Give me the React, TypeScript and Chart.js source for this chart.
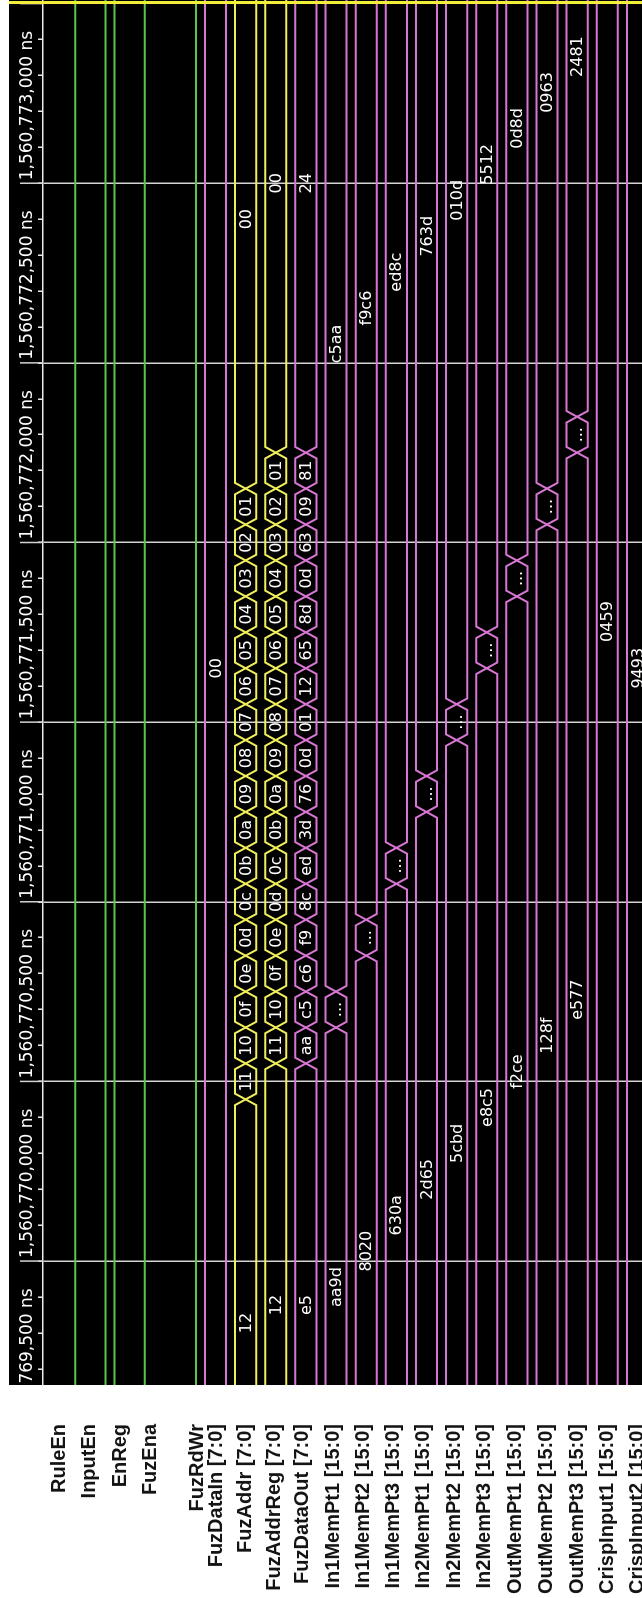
import React, { useEffect, useRef } from 'react';
import { Chart, registerables } from 'chart.js';

Chart.register(...registerables);

// ---- signals, top to bottom in the wave window ----
const SIGNAL_NAMES = [
  'RuleEn',
  'InputEn',
  'EnReg',
  'FuzEna',
  'FuzRdWr',
  'FuzDataIn [7:0]',
  'FuzAddr [7:0]',
  'FuzAddrReg [7:0]',
  'FuzDataOut [7:0]',
  'In1MemPt1 [15:0]',
  'In1MemPt2 [15:0]',
  'In1MemPt3 [15:0]',
  'In2MemPt1 [15:0]',
  'In2MemPt2 [15:0]',
  'In2MemPt3 [15:0]',
  'OutMemPt1 [15:0]',
  'OutMemPt2 [15:0]',
  'OutMemPt3 [15:0]',
  'CrispInput1 [15:0]',
  'CrispInput2 [15:0]',
];

// 1-bit signals (rows 0..4): level held over the whole window
const BIT_LEVELS = [0, 0, 1, 1, 0];

// ---- time (ns) ----
const TRACE_START = 1560769205; // span held by the wave window
const TRACE_END = 1560774355;
const VIEW_START = 1560769655; // part of it that is on screen
const VIEW_END = 1560773510;
const CURSOR_TIME = 1560773503;

const MAJOR_TIMES = [
  1560769500, 1560770000, 1560770500, 1560771000, 1560771500,
  1560772000, 1560772500, 1560773000, 1560773500,
];
const MAJOR_LABELS = [
  '1,560,769,500 ns', '1,560,770,000 ns', '1,560,770,500 ns', '1,560,771,000 ns',
  '1,560,771,500 ns', '1,560,772,000 ns', '1,560,772,500 ns', '1,560,773,000 ns',
  '1,560,773,500 ns',
];
const MINOR_STEP_NS = 100;

// ---- bus values: boundary times and the value held between them ----
const FUZ_DATA_IN_TIMES = [TRACE_START, 1560774095];
const FUZ_DATA_IN_VALUES = ['00'];

const FUZ_ADDR_TIMES = [
  TRACE_START,
  1560770450, 1560770550, 1560770650, 1560770750, 1560770850, 1560770950,
  1560771050, 1560771150, 1560771250, 1560771350, 1560771450, 1560771550,
  1560771650, 1560771750, 1560771850, 1560771950, 1560772050, 1560772150,
  1560773650,
];
const FUZ_ADDR_VALUES = [
  '12', '11', '10', '0f', '0e', '0d', '0c', '0b', '0a', '09',
  '08', '07', '06', '05', '04', '03', '02', '01', '00',
];

const FUZ_ADDR_REG_TIMES = [
  TRACE_START,
  1560770550, 1560770650, 1560770750, 1560770850, 1560770950, 1560771050,
  1560771150, 1560771250, 1560771350, 1560771450, 1560771550, 1560771650,
  1560771750, 1560771850, 1560771950, 1560772050, 1560772150, 1560772250,
  1560773750,
];
const FUZ_ADDR_REG_VALUES = [
  '12', '11', '10', '0f', '0e', '0d', '0c', '0b', '0a', '09',
  '08', '07', '06', '05', '04', '03', '02', '01', '00',
];

const FUZ_DATA_OUT_TIMES = [
  TRACE_START,
  1560770550, 1560770650, 1560770750, 1560770850, 1560770950, 1560771050,
  1560771150, 1560771250, 1560771350, 1560771450, 1560771550, 1560771650,
  1560771750, 1560771850, 1560771950, 1560772050, 1560772150, 1560772250,
  1560773750,
];
const FUZ_DATA_OUT_VALUES = [
  'e5', 'aa', 'c5', 'c6', 'f9', '8c', 'ed', '3d', '76', '0d',
  '01', '12', '65', '8d', '0d', '63', '09', '81', '24',
];

// null: value held too briefly to be printed
const IN1_MEM_PT1_TIMES = [TRACE_START, 1560770650, 1560770750, TRACE_END];
const IN1_MEM_PT1_VALUES = ['aa9d', null, 'c5aa'];
const IN1_MEM_PT2_TIMES = [TRACE_START, 1560770850, 1560770950, TRACE_END];
const IN1_MEM_PT2_VALUES = ['8020', null, 'f9c6'];
const IN1_MEM_PT3_TIMES = [TRACE_START, 1560771050, 1560771150, TRACE_END];
const IN1_MEM_PT3_VALUES = ['630a', null, 'ed8c'];
const IN2_MEM_PT1_TIMES = [TRACE_START, 1560771250, 1560771350, TRACE_END];
const IN2_MEM_PT1_VALUES = ['2d65', null, '763d'];
const IN2_MEM_PT2_TIMES = [TRACE_START, 1560771450, 1560771550, TRACE_END];
const IN2_MEM_PT2_VALUES = ['5cbd', null, '010d'];
const IN2_MEM_PT3_TIMES = [TRACE_START, 1560771650, 1560771750, TRACE_END];
const IN2_MEM_PT3_VALUES = ['e8c5', null, '5512'];
const OUT_MEM_PT1_TIMES = [TRACE_START, 1560771850, 1560771950, TRACE_END];
const OUT_MEM_PT1_VALUES = ['f2ce', null, '0d8d'];
const OUT_MEM_PT2_TIMES = [TRACE_START, 1560772050, 1560772150, TRACE_END];
const OUT_MEM_PT2_VALUES = ['128f', null, '0963'];
const OUT_MEM_PT3_TIMES = [TRACE_START, 1560772250, 1560772350, TRACE_END];
const OUT_MEM_PT3_VALUES = ['e577', null, '2481'];
const CRISP_INPUT1_TIMES = [TRACE_START, TRACE_END];
const CRISP_INPUT1_VALUES = ['0459'];
const CRISP_INPUT2_TIMES = [TRACE_START, 1560774095];
const CRISP_INPUT2_VALUES = ['9493'];

// ---- look ----
const GREEN = '#5ac64a';
const PINK = '#d876d3';
const YELLOW = '#f1ee5c';
const GRID = '#d4d4d4';
const AXIS = '#ececec';
const CURSOR = '#f3ef3a';

const PAGE_W = 642;
const PAGE_H = 1598;
const CANVAS_W = PAGE_H; // drawn lying down, then turned upright
const CANVAS_H = PAGE_W;
const NAME_PANEL_W = 213;
const HEADER_TOP = 9;
const HEADER_H = 34;
const ROW_MIN = -0.723;
const ROW_MAX = 19.151;
const HALF_LANE = 0.35; // half bus height, in rows
const EDGE_NS = 16; // half width of a bus crossing
const NAME_RIGHT = 174;
const NAME_NUDGE = [-5, -5, -5, -5, 12, 1, 0, -1, -3, -3, -3, -3, -3, -2, -2, -1, -1, 0, 0, 0];

const VALUE_FONT = '16px "DejaVu Sans", Verdana, sans-serif';
const AXIS_FONT = '17px "DejaVu Sans", Verdana, sans-serif';
const NAME_FONT = 'bold 20px "Liberation Sans", Arial, sans-serif';

type Bus = { row: number; times: number[]; values: (string | null)[]; color: string };

const BUS_ROWS: Bus[] = [
  { row: 5, times: FUZ_DATA_IN_TIMES, values: FUZ_DATA_IN_VALUES, color: PINK },
  { row: 6, times: FUZ_ADDR_TIMES, values: FUZ_ADDR_VALUES, color: YELLOW },
  { row: 7, times: FUZ_ADDR_REG_TIMES, values: FUZ_ADDR_REG_VALUES, color: YELLOW },
  { row: 8, times: FUZ_DATA_OUT_TIMES, values: FUZ_DATA_OUT_VALUES, color: PINK },
  { row: 9, times: IN1_MEM_PT1_TIMES, values: IN1_MEM_PT1_VALUES, color: PINK },
  { row: 10, times: IN1_MEM_PT2_TIMES, values: IN1_MEM_PT2_VALUES, color: PINK },
  { row: 11, times: IN1_MEM_PT3_TIMES, values: IN1_MEM_PT3_VALUES, color: PINK },
  { row: 12, times: IN2_MEM_PT1_TIMES, values: IN2_MEM_PT1_VALUES, color: PINK },
  { row: 13, times: IN2_MEM_PT2_TIMES, values: IN2_MEM_PT2_VALUES, color: PINK },
  { row: 14, times: IN2_MEM_PT3_TIMES, values: IN2_MEM_PT3_VALUES, color: PINK },
  { row: 15, times: OUT_MEM_PT1_TIMES, values: OUT_MEM_PT1_VALUES, color: PINK },
  { row: 16, times: OUT_MEM_PT2_TIMES, values: OUT_MEM_PT2_VALUES, color: PINK },
  { row: 17, times: OUT_MEM_PT3_TIMES, values: OUT_MEM_PT3_VALUES, color: PINK },
  { row: 18, times: CRISP_INPUT1_TIMES, values: CRISP_INPUT1_VALUES, color: PINK },
  { row: 19, times: CRISP_INPUT2_TIMES, values: CRISP_INPUT2_VALUES, color: PINK },
];

// Two edge lines of a bus; they swap sides at every value change, which draws the X.
function busEdges(times: number[], row: number) {
  const hi = row - HALF_LANE;
  const lo = row + HALF_LANE;
  let la = hi;
  let lb = lo;
  const a = [{ x: times[0], y: la }];
  const b = [{ x: times[0], y: lb }];
  for (let i = 1; i < times.length - 1; i++) {
    const t = times[i];
    a.push({ x: t - EDGE_NS, y: la });
    b.push({ x: t - EDGE_NS, y: lb });
    const s = la;
    la = lb;
    lb = s;
    a.push({ x: t + EDGE_NS, y: la });
    b.push({ x: t + EDGE_NS, y: lb });
  }
  const end = times[times.length - 1];
  a.push({ x: end, y: la });
  b.push({ x: end, y: lb });
  return [a, b];
}

function lineSet(data: { x: number; y: number }[], color: string) {
  return {
    data,
    showLine: true,
    borderColor: color,
    borderWidth: 2,
    pointRadius: 0,
    pointHoverRadius: 0,
    tension: 0,
    fill: false,
    clip: 0,
  };
}

function buildDatasets() {
  const sets: any[] = [];
  BIT_LEVELS.forEach((level, row) => {
    const y = level ? row - HALF_LANE : row + HALF_LANE;
    sets.push(lineSet([{ x: TRACE_START, y }, { x: TRACE_END, y }], GREEN));
  });
  BUS_ROWS.forEach((bus) => {
    const [a, b] = busEdges(bus.times, bus.row);
    sets.push(lineSet(a, bus.color));
    sets.push(lineSet(b, bus.color));
  });
  return sets;
}

const wavePlugin = {
  id: 'waveWindow',
  beforeDraw(chart: any) {
    const { ctx, chartArea } = chart;
    ctx.save();
    ctx.fillStyle = '#ffffff';
    ctx.fillRect(0, 0, chart.width, chart.height);
    ctx.fillStyle = '#000000';
    ctx.fillRect(chartArea.left, HEADER_TOP, chartArea.right - chartArea.left, chart.height - HEADER_TOP);
    ctx.restore();
  },
  afterDatasetsDraw(chart: any) {
    const { ctx, chartArea } = chart;
    const xs = chart.scales.x;
    const ys = chart.scales.y;
    const edgePx = xs.getPixelForValue(VIEW_START + EDGE_NS) - xs.getPixelForValue(VIEW_START);
    ctx.save();
    ctx.beginPath();
    ctx.rect(chartArea.left, chartArea.top, chartArea.right - chartArea.left, chartArea.bottom - chartArea.top);
    ctx.clip();
    ctx.font = VALUE_FONT;
    ctx.fillStyle = '#ffffff';
    ctx.textAlign = 'center';
    ctx.textBaseline = 'middle';
    const dots = ctx.measureText('...').width;
    BUS_ROWS.forEach((bus) => {
      const yc = ys.getPixelForValue(bus.row) + 1;
      for (let i = 0; i < bus.values.length; i++) {
        const x1 = xs.getPixelForValue(bus.times[i]);
        const x2 = xs.getPixelForValue(bus.times[i + 1]);
        if (x2 < chartArea.left - 200 || x1 > chartArea.right + 200) continue;
        const room = x2 - x1 - 2 * edgePx;
        let text: string | null = bus.values[i];
        if (text === null || ctx.measureText(text).width > room) {
          text = dots <= room ? '...' : null;
        }
        if (text) ctx.fillText(text, (x1 + x2) / 2, yc);
      }
    });
    ctx.restore();
  },
  afterDraw(chart: any) {
    const { ctx, chartArea } = chart;
    const xs = chart.scales.x;
    const ys = chart.scales.y;

    // time header: major lines run up through the label band
    ctx.save();
    ctx.beginPath();
    ctx.rect(chartArea.left, HEADER_TOP, chartArea.right - chartArea.left, HEADER_H);
    ctx.clip();
    ctx.strokeStyle = GRID;
    ctx.lineWidth = 1.5;
    ctx.font = AXIS_FONT;
    ctx.fillStyle = '#ffffff';
    ctx.textAlign = 'left';
    ctx.textBaseline = 'middle';
    MAJOR_TIMES.forEach((t, i) => {
      const x = xs.getPixelForValue(t);
      ctx.beginPath();
      ctx.moveTo(x, HEADER_TOP + 11);
      ctx.lineTo(x, HEADER_TOP + HEADER_H);
      ctx.stroke();
      ctx.fillText(MAJOR_LABELS[i], x + 3, HEADER_TOP + 19);
    });
    ctx.restore();

    // cursor
    ctx.save();
    ctx.strokeStyle = CURSOR;
    ctx.lineWidth = 3;
    const cx = xs.getPixelForValue(CURSOR_TIME);
    ctx.beginPath();
    ctx.moveTo(cx, HEADER_TOP);
    ctx.lineTo(cx, chart.height);
    ctx.stroke();
    ctx.restore();

    // signal names
    ctx.save();
    ctx.font = NAME_FONT;
    ctx.fillStyle = '#141414';
    ctx.textAlign = 'right';
    ctx.textBaseline = 'middle';
    SIGNAL_NAMES.forEach((name, row) => {
      ctx.fillText(name, NAME_RIGHT, ys.getPixelForValue(row) + NAME_NUDGE[row]);
    });
    ctx.restore();
  },
};

export default function App() {
  const canvasRef = useRef<HTMLCanvasElement | null>(null);

  useEffect(() => {
    const canvas = canvasRef.current;
    if (!canvas) return;
    const chart = new Chart(canvas, {
      type: 'scatter',
      data: { datasets: buildDatasets() },
      options: {
        animation: false,
        responsive: false,
        devicePixelRatio: 1,
        events: [],
        layout: { padding: { left: NAME_PANEL_W, top: HEADER_TOP, right: 0, bottom: 0 } },
        plugins: {
          legend: { display: false },
          tooltip: { enabled: false },
          title: { display: false },
        },
        scales: {
          x: {
            type: 'linear',
            position: 'top',
            min: VIEW_START,
            max: VIEW_END,
            afterBuildTicks: (scale: any) => {
              const ticks = [];
              const first = Math.ceil(VIEW_START / MINOR_STEP_NS) * MINOR_STEP_NS;
              for (let t = first; t <= VIEW_END; t += MINOR_STEP_NS) ticks.push({ value: t });
              scale.ticks = ticks;
            },
            afterFit: (scale: any) => {
              scale.height = HEADER_H;
            },
            ticks: { display: false, autoSkip: false },
            grid: {
              drawOnChartArea: true,
              drawTicks: true,
              tickLength: 5,
              lineWidth: 1.5,
              color: (c: any) =>
                c.tick && MAJOR_TIMES.includes(c.tick.value) ? GRID : 'rgba(0,0,0,0)',
              tickColor: AXIS,
            },
            border: { display: true, color: AXIS, width: 1.5 },
          },
          y: {
            type: 'linear',
            min: ROW_MIN,
            max: ROW_MAX,
            reverse: true,
            display: false,
          },
        },
      } as any,
      plugins: [wavePlugin],
    });
    return () => chart.destroy();
  }, []);

  return (
    <div
      style={{
        position: 'absolute',
        left: 0,
        top: 0,
        width: PAGE_W,
        height: PAGE_H,
        overflow: 'hidden',
        background: '#ffffff',
      }}
    >
      <div
        style={{
          position: 'absolute',
          left: 0,
          top: 0,
          width: CANVAS_W,
          height: CANVAS_H,
          transformOrigin: '0 0',
          transform: `translateY(${PAGE_H}px) rotate(-90deg)`,
        }}
      >
        <canvas
          ref={canvasRef}
          width={CANVAS_W}
          height={CANVAS_H}
          style={{ display: 'block', width: CANVAS_W, height: CANVAS_H }}
        />
      </div>
    </div>
  );
}
